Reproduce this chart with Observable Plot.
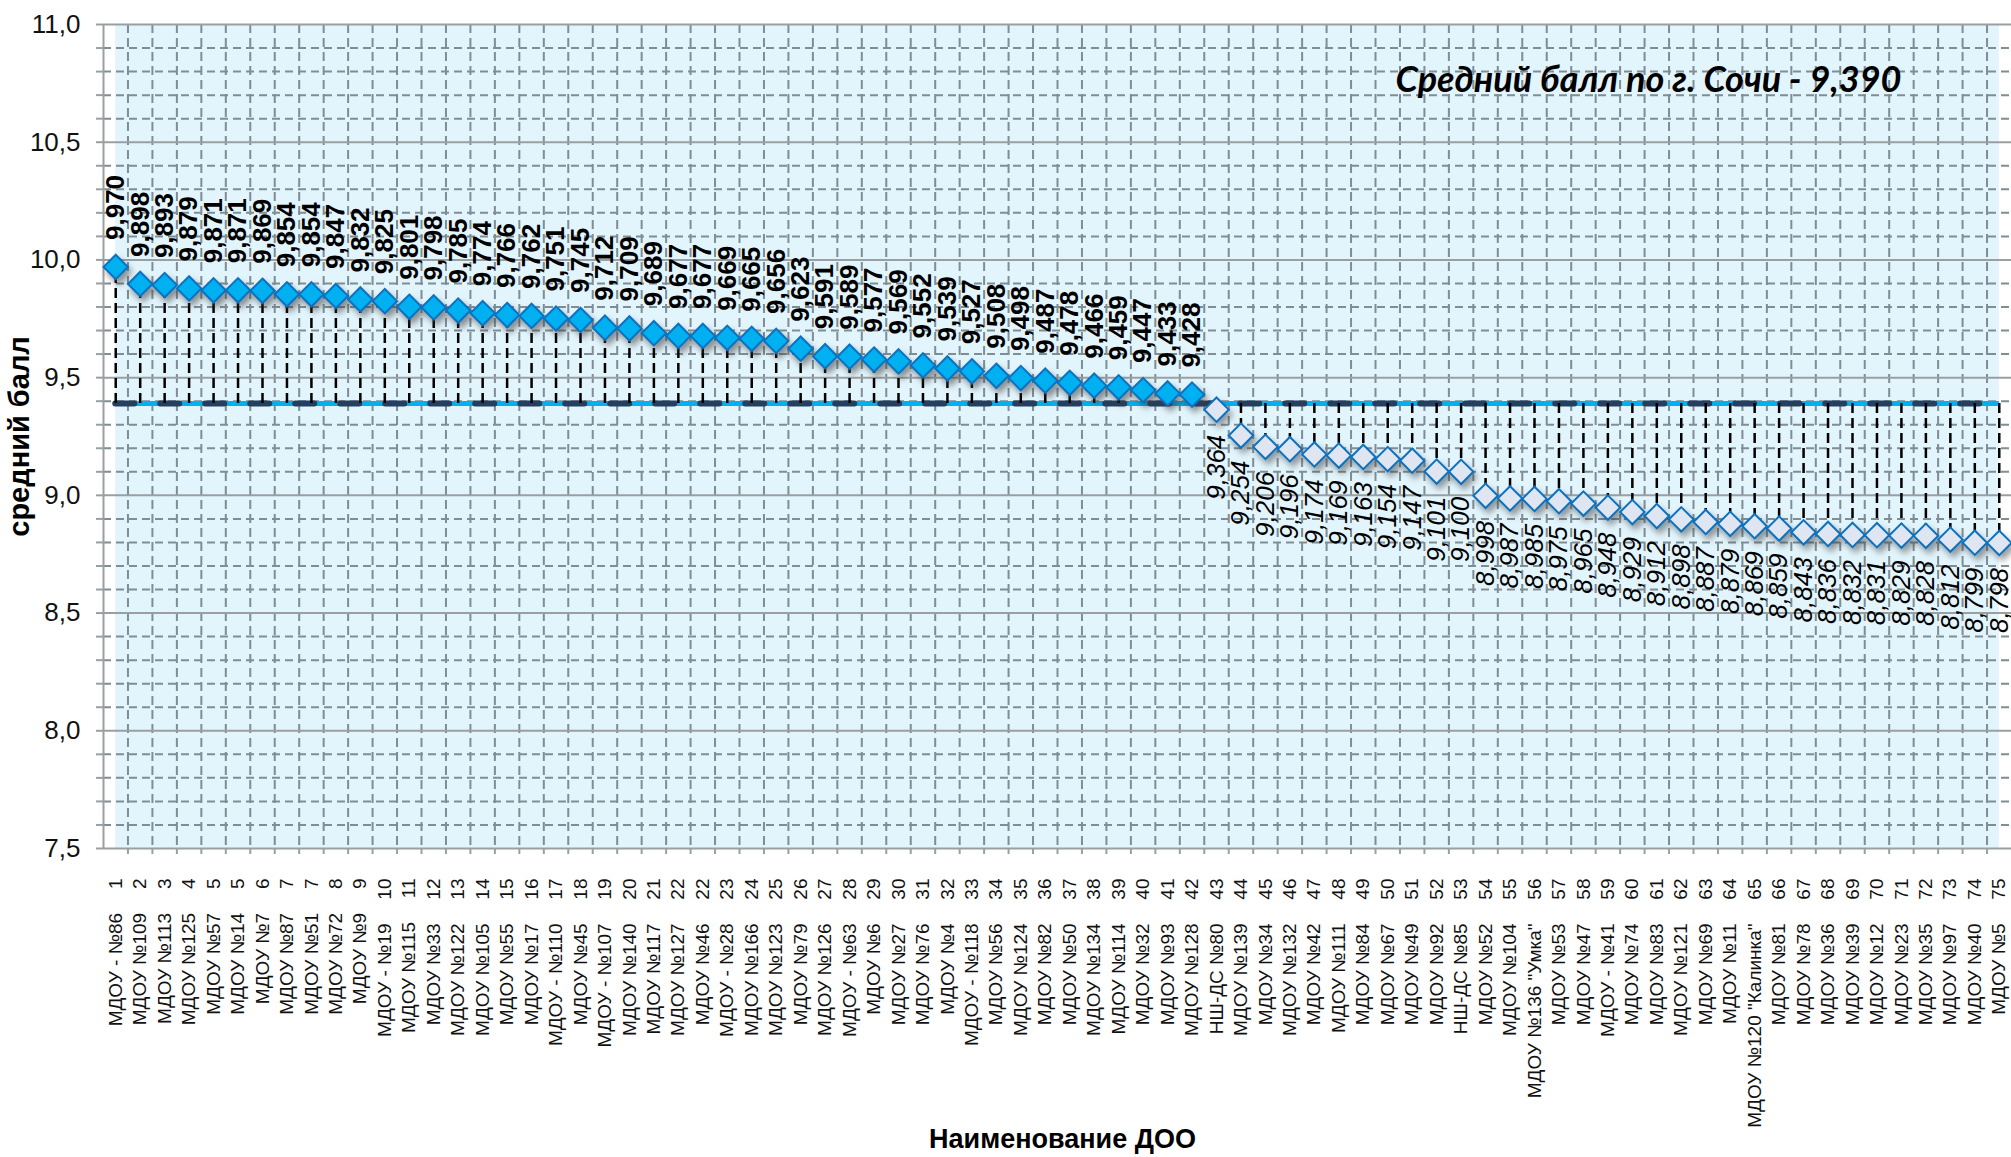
<!DOCTYPE html>
<html>
<head>
<meta charset="utf-8">
<script src="https://cdn.jsdelivr.net/npm/d3@7"></script>
<script src="https://cdn.jsdelivr.net/npm/@observablehq/plot@0.6"></script>
<style>
  body { margin: 0; background: #ffffff; }
  #chart svg { display: block; }
</style>
</head>
<body>
<div id="chart"></div>
<script>
// ---- Data ----
const ranks = [1,2,3,4,5,5,6,7,7,8,9,10,11,12,13,14,15,16,17,18,19,20,21,22,22,23,24,25,26,27,28,29,30,31,32,33,34,35,36,37,38,39,40,41,42,43,44,45,46,47,48,49,50,51,52,53,54,55,56,57,58,59,60,61,62,63,64,65,66,67,68,69,70,71,72,73,74,75];

const names = ["МДОУ - №86","МДОУ №109","МДОУ №113","МДОУ №125","МДОУ №57","МДОУ №14","МДОУ №7","МДОУ №87","МДОУ №51","МДОУ №72","МДОУ №9","МДОУ - №19","МДОУ №115","МДОУ №33","МДОУ №122","МДОУ №105","МДОУ №55","МДОУ №17","МДОУ - №110","МДОУ №45","МДОУ - №107","МДОУ №140","МДОУ №117","МДОУ №127","МДОУ №46","МДОУ - №28","МДОУ №166","МДОУ №123","МДОУ №79","МДОУ №126","МДОУ - №63","МДОУ №6","МДОУ №27","МДОУ №76","МДОУ №4","МДОУ - №118","МДОУ №56","МДОУ №124","МДОУ №82","МДОУ №50","МДОУ №134","МДОУ №114","МДОУ №32","МДОУ №93","МДОУ №128","НШ-ДС №80","МДОУ №139","МДОУ №34","МДОУ №132","МДОУ №42","МДОУ №111","МДОУ №84","МДОУ №67","МДОУ №49","МДОУ №92","НШ-ДС №85","МДОУ №52","МДОУ №104","МДОУ №136 \"Умка\"","МДОУ №53","МДОУ №47","МДОУ - №41","МДОУ №74","МДОУ №83","МДОУ №121","МДОУ №69","МДОУ №11","МДОУ №120 \"Калинка\"","МДОУ №81","МДОУ №78","МДОУ №36","МДОУ №39","МДОУ №12","МДОУ №23","МДОУ №35","МДОУ №97","МДОУ №40","МДОУ №5"];

const scores = [9.970,9.898,9.893,9.879,9.871,9.871,9.869,9.854,9.854,9.847,9.832,9.825,9.801,9.798,9.785,9.774,9.766,9.762,9.751,9.745,9.712,9.709,9.689,9.677,9.677,9.669,9.665,9.656,9.623,9.591,9.589,9.577,9.569,9.552,9.539,9.527,9.508,9.498,9.487,9.478,9.466,9.459,9.447,9.433,9.428,9.364,9.254,9.206,9.196,9.174,9.169,9.163,9.154,9.147,9.101,9.100,8.998,8.987,8.985,8.975,8.965,8.948,8.929,8.912,8.898,8.887,8.879,8.869,8.859,8.843,8.836,8.832,8.831,8.829,8.828,8.812,8.799,8.798];

const avgScore = 9.390;
const yMajor = [7.5, 8.0, 8.5, 9.0, 9.5, 10.0, 10.5, 11.0];
const yTitle = "средний балл";
const xTitle = "Наименование ДОО";
const note = "Средний балл по г. Сочи - 9,390";

// ---- Derived ----
const data = names.map((name, i) => ({i, name, rank: ranks[i], score: scores[i]}));
const above = data.filter(d => d.score > avgScore);
const below = data.filter(d => d.score <= avgScore);
const firstI = 0, lastI = data.length - 1;
const xDomain = [firstI - 0.5, lastI + 0.5];
const bounds = data.slice(1).map(d => d.i - 0.5);
const yDomain = d3.extent(yMajor);
const yMinor = d3.range(76, 110).filter(v => v % 5 !== 0).map(v => v / 10);
const yAll = d3.range(75, 111).map(v => v / 10);
const isMajor = v => Math.abs(v * 2 - Math.round(v * 2)) < 1e-9;
const fmt = v => d3.format(".3f")(v).replace(".", ",");
const fmtY = v => d3.format(".1f")(v).replace(".", ",");
const gap = "\u2003\u2005";

const gridC = "#7f8d94";
const axisC = "#9a9fa2";

const chart = Plot.plot({
  width: 2011,
  height: 1157,
  marginLeft: 103,
  marginRight: 0,
  marginTop: 24,
  marginBottom: 309,
  style: {fontFamily: "'Liberation Sans', Arial, sans-serif", background: "#ffffff", color: "#000"},
  x: {type: "linear", domain: xDomain, axis: null, label: null},
  y: {domain: yDomain, axis: null, label: null},
  marks: [
    Plot.rect([yDomain], {x1: firstI, x2: lastI, y1: d => d[0], y2: d => d[1], fill: "#e2f4fc"}),
    Plot.ruleY(yMinor, {stroke: gridC, strokeWidth: 2, strokeDasharray: "8,5"}),
    Plot.ruleX(bounds, {stroke: gridC, strokeWidth: 2, strokeDasharray: "9,5"}),
    Plot.ruleY(yMajor, {stroke: axisC, strokeWidth: 2}),
    Plot.ruleX([xDomain[0]], {stroke: axisC, strokeWidth: 2}),
    Plot.axisY({ticks: yAll, tickSize: 7, tickPadding: 16, stroke: axisC, strokeWidth: 2,
      tickFormat: v => isMajor(v) ? fmtY(v) : "", fontSize: 26, fill: "#111", label: null}),
    Plot.axisX({ticks: bounds, tickSize: 6, stroke: axisC, strokeWidth: 2, tickFormat: () => "", label: null}),
    Plot.axisX({ticks: data.map(d => d.i), tickSize: 0, tickPadding: 30, tickRotate: -90,
      tickFormat: i => names[i] + gap + ranks[i], fontSize: 19, fill: "#111", label: null}),
    Plot.ruleY([avgScore], {x1: firstI, x2: lastI, stroke: "#00b0f0", strokeWidth: 5}),
    Plot.ruleY([avgScore], {x1: firstI, x2: lastI, stroke: "#243f60", strokeWidth: 6,
      strokeDasharray: "19,26", strokeLinecap: "round"}),
    Plot.ruleX(data, {x: "i", y1: avgScore, y2: "score", stroke: "#000", strokeWidth: 2.5, strokeDasharray: "10,5"}),
    Plot.dot(above, {x: "i", y: "score", symbol: "diamond2", r: 11, fill: "#00b0f0", stroke: "#0c72c0",
      strokeWidth: 2, imageFilter: "drop-shadow(3px 5px 3px rgba(60,60,60,0.55))"}),
    Plot.dot(below, {x: "i", y: "score", symbol: "diamond2", r: 11, fill: "#dfe6f1", stroke: "#0c72c0",
      strokeWidth: 2, imageFilter: "drop-shadow(3px 5px 3px rgba(60,60,60,0.5))"}),
    Plot.text(above, {x: "i", y: "score", text: d => fmt(d.score), rotate: -90, textAnchor: "start",
      lineAnchor: "middle", dy: -27, fontSize: 26, fontWeight: "bold", fill: "#000"}),
    Plot.text(below, {x: "i", y: "score", text: d => fmt(d.score), rotate: -90, textAnchor: "end",
      lineAnchor: "middle", dy: 25, fontSize: 26, fontStyle: "italic", fill: "#000"}),
    Plot.text([yTitle], {text: d => d, frameAnchor: "left", textAnchor: "middle", lineAnchor: "middle",
      dx: -84, rotate: -90, fontSize: 29, fontWeight: "bold", fill: "#000"}),
    Plot.text([xTitle], {text: d => d, frameAnchor: "bottom", textAnchor: "middle", lineAnchor: "middle",
      dx: 5, dy: 291, fontSize: 27, fontWeight: "bold", fill: "#000"}),
    Plot.text([note], {text: d => d, frameAnchor: "top-right", dx: -363, dy: 56, textAnchor: "middle",
      lineAnchor: "middle", fontFamily: "Lato", fontStyle: "italic", fontWeight: "bold", fontSize: 36, fill: "#000"})
  ]
});
document.getElementById("chart").appendChild(chart);
</script>
</body>
</html>
